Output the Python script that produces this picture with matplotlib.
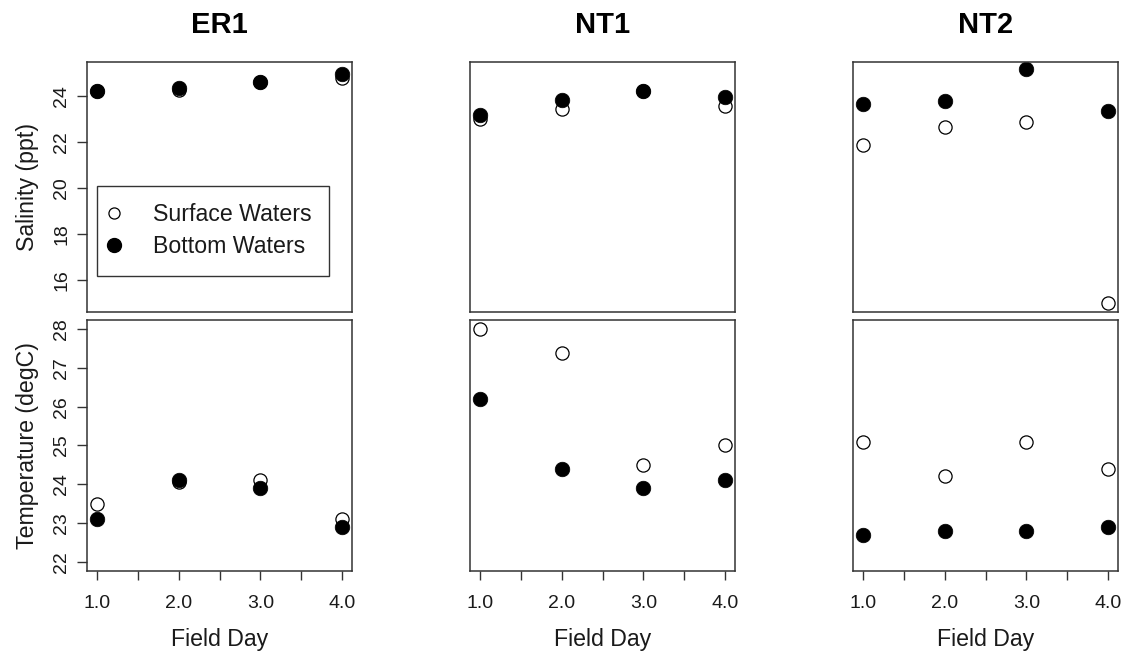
import matplotlib
matplotlib.use("Agg")
import matplotlib.pyplot as plt
from matplotlib.lines import Line2D

plt.rcParams['font.family'] = ['Liberation Sans', 'DejaVu Sans']

sites = ["ER1", "NT1", "NT2"]
days = [1.0, 2.0, 3.0, 4.0]

sal_surface = {
    "ER1": [24.2, 24.25, 24.6, 24.75],
    "NT1": [23.0, 23.4, 24.2, 23.55],
    "NT2": [21.85, 22.65, 22.85, 15.0],
}
sal_bottom = {
    "ER1": [24.2, 24.35, 24.6, 24.95],
    "NT1": [23.15, 23.8, 24.2, 23.95],
    "NT2": [23.65, 23.75, 25.15, 23.35],
}
temp_surface = {
    "ER1": [23.5, 24.05, 24.1, 23.1],
    "NT1": [28.0, 27.4, 24.5, 25.0],
    "NT2": [25.1, 24.2, 25.1, 24.4],
}
temp_bottom = {
    "ER1": [23.1, 24.1, 23.9, 22.9],
    "NT1": [26.2, 24.4, 23.9, 24.1],
    "NT2": [22.7, 22.8, 22.8, 22.9],
}

sal_ticks = [16, 18, 20, 22, 24]
temp_ticks = [22, 23, 24, 25, 26, 27, 28]
x_major = [1.0, 2.0, 3.0, 4.0]
x_minor = [1.5, 2.5, 3.5]
legend_labels = ["Surface Waters", "Bottom Waters"]

W, H = 1123, 651
fig = plt.figure(figsize=(W / 100, H / 100), dpi=100)

col_x = [87, 470, 853]
col_w = 265
top_row = (62, 312)
bot_row = (320, 571)

def add_ax(x0, ytop, ybot):
    return fig.add_axes([x0 / W, 1 - ybot / H, col_w / W, (ybot - ytop) / H])

TXT = '#1a1a1a'
for i, site in enumerate(sites):
    ax1 = add_ax(col_x[i], *top_row)
    ax2 = add_ax(col_x[i], *bot_row)
    for ax in (ax1, ax2):
        for s in ax.spines.values():
            s.set_linewidth(1.1)
            s.set_color('#333333')
        ax.set_xlim(0.88, 4.12)
    ax1.set_ylim(14.6, 25.46)
    ax2.set_ylim(21.76, 28.24)

    ax1.plot(days, sal_surface[site], 'o', ms=9.5, mfc='white', mec='black', mew=0.9, ls='none')
    ax1.plot(days, sal_bottom[site], 'o', ms=10.5, mfc='black', mec='black', mew=0.5, ls='none')
    ax2.plot(days, temp_surface[site], 'o', ms=9.5, mfc='white', mec='black', mew=0.9, ls='none')
    ax2.plot(days, temp_bottom[site], 'o', ms=10.5, mfc='black', mec='black', mew=0.5, ls='none')

    ax1.set_xticks([])
    ax2.set_xticks(x_major)
    ax2.set_xticks(x_minor, minor=True)
    ax2.set_xticklabels(["%.1f" % v for v in x_major], fontsize=14, color=TXT)
    ax2.tick_params(axis='x', which='both', length=6.5, width=1.0, color='#333333', pad=10.5)
    ax2.set_xlabel("Field Day", fontsize=16.7, color=TXT, labelpad=11.5)

    if i == 0:
        ax1.set_yticks(sal_ticks)
        ax1.set_yticklabels([str(v) for v in sal_ticks], rotation=90, va='center', fontsize=14, color=TXT)
        ax2.set_yticks(temp_ticks)
        ax2.set_yticklabels([str(v) for v in temp_ticks], rotation=90, va='center', fontsize=14, color=TXT)
        for ax in (ax1, ax2):
            ax.tick_params(axis='y', length=7, width=1.0, color='#333333', pad=5)
        ax1.set_ylabel("Salinity (ppt)", fontsize=16.7, color=TXT, labelpad=10)
        ax2.set_ylabel("Temperature (degC)", fontsize=16.7, color=TXT, labelpad=10)
        handles = [
            Line2D([], [], marker='o', ls='none', ms=8, mfc='white', mec='black', mew=0.9),
            Line2D([], [], marker='o', ls='none', ms=10, mfc='black', mec='black'),
        ]
        leg = ax1.legend(handles, legend_labels, loc='upper left',
                         bbox_to_anchor=(0.038, 0.504), fontsize=16.7,
                         frameon=True, fancybox=False, borderpad=0.75,
                         handletextpad=1.66, labelspacing=0.38, handlelength=0,
                         borderaxespad=0)
        leg.get_frame().set_edgecolor('black')
        leg.get_frame().set_linewidth(1.0)
        for t in leg.get_texts():
            t.set_color(TXT)
    else:
        ax1.set_yticks([])
        ax2.set_yticks([])

    fig.text((col_x[i] + col_w / 2) / W, 1 - 25 / H, site, ha='center', va='center',
             fontsize=21, fontweight='bold', color='black')

fig.savefig("out.png", dpi=100, facecolor='white')
